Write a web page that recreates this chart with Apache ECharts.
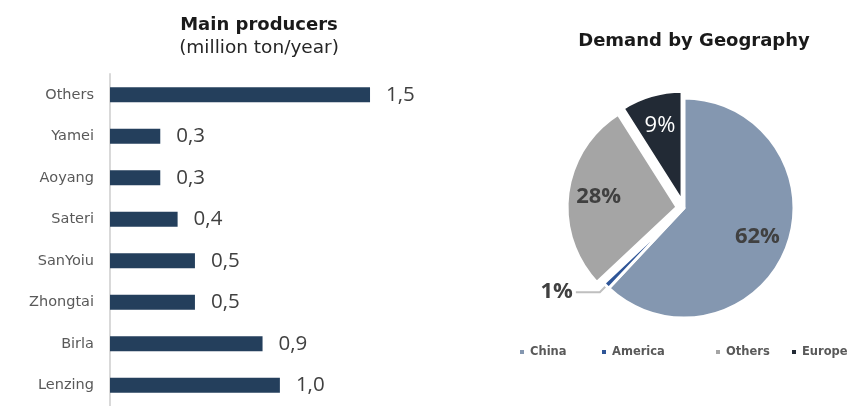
<!DOCTYPE html>
<html><head><meta charset="utf-8">
<script src="https://cdn.jsdelivr.net/npm/echarts@6/dist/echarts.min.js"></script>
<style>html,body{margin:0;padding:0;background:#fff}#c{width:849px;height:406px}</style>
</head><body><div id="c"></div>
<script>
var producers = ['Others','Yamei','Aoyang','Sateri','SanYoiu','Zhongtai','Birla','Lenzing'];
var capacity = [1.5, 0.29, 0.29, 0.39, 0.49, 0.49, 0.88, 0.98];
var regions = ['China','America','Others','Europe'];
var demandShare = [62, 1, 28, 9];
var regionColors = ['#8497B0','#2F5597','#A5A5A5','#222A35'];
var explodedRegions = ['Others','Europe'];
var legendLefts = [518, 600, 714, 790];

var chart = echarts.init(document.getElementById('c'));
var pieData = regions.map(function(n,i){
  var d = {name:n, value:demandShare[i], itemStyle:{color:regionColors[i]}, selected: explodedRegions.indexOf(n)>=0};
  if(n==='America'){ d.label = {show:true, position:'outside', formatter:'{c}%', fontFamily:'Open Sans', fontWeight:'bold', fontSize:22, color:'#404040', distanceToLabelLine:3}; d.labelLine={show:true, length:9, length2:24, lineStyle:{color:'#BFBFBF', width:2}}; }
  return d;
});
var labelData = regions.map(function(n,i){
  return {name:n, value:demandShare[i], selected: explodedRegions.indexOf(n)>=0,
    label:{show: n!=='America', color: n==='Europe' ? '#ffffff' : '#404040', fontWeight: n==='Europe' ? 'normal':'bold'}};
});
var legends = regions.map(function(n,i){
  return {data:[n], left:legendLefts[i], top:346, padding:0, icon:'rect', itemWidth:6, itemHeight:6, itemGap:4,
    textStyle:{fontFamily:'DejaVu Sans', fontWeight:'bold', fontSize:11.5, color:'#595959'}};
});
chart.setOption({
  animation:false,
  title:[
    {text:'Main producers', subtext:'(million ton/year)', left:254, top:11, textAlign:'center', itemGap:5,
     textStyle:{fontFamily:'DejaVu Sans', fontWeight:'bold', fontSize:18, color:'#1a1a1a'},
     subtextStyle:{fontFamily:'DejaVu Sans', fontSize:18.5, color:'#262626'}},
    {text:'Demand by Geography', left:689, top:27, textAlign:'center',
     textStyle:{fontFamily:'DejaVu Sans', fontWeight:'bold', fontSize:18, color:'#1a1a1a'}}
  ],
  legend:legends,
  grid:{left:110, top:74, width:346.7, height:335},
  xAxis:{type:'value', min:0, max:2, show:false},
  yAxis:{type:'category', data:producers, inverse:true,
    axisLine:{show:true, lineStyle:{color:'#D9D9D9', width:2}}, axisTick:{show:false},
    axisLabel:{margin:16, fontFamily:'DejaVu Sans', fontSize:14.5, color:'#595959'}},
  series:[
    {type:'bar', data:capacity, barWidth:15, itemStyle:{color:'#243F5C'},
     label:{show:true, position:'right', distance:16, fontFamily:'Open Sans', fontSize:20.5, color:'#404040',
       formatter:function(p){return p.value.toFixed(1).replace('.',',');}}},
    {type:'pie', center:[684,208], radius:[0,110], startAngle:90, clockwise:true,
     selectedMode:'multiple', selectedOffset:7, silent:true,
     itemStyle:{borderColor:'#fff', borderWidth:3},
     label:{show:false}, labelLine:{show:false}, data:pieData},
    {type:'pie', center:[684,208], radius:[42,110], startAngle:90, clockwise:true,
     selectedMode:'multiple', selectedOffset:7, silent:true, legendHoverLink:false,
     itemStyle:{color:'rgba(0,0,0,0)'},
     label:{show:true, position:'inside', formatter:'{c}%', fontFamily:'Open Sans', fontSize:22},
     labelLine:{show:false}, data:labelData}
  ]
});
</script></body></html>
